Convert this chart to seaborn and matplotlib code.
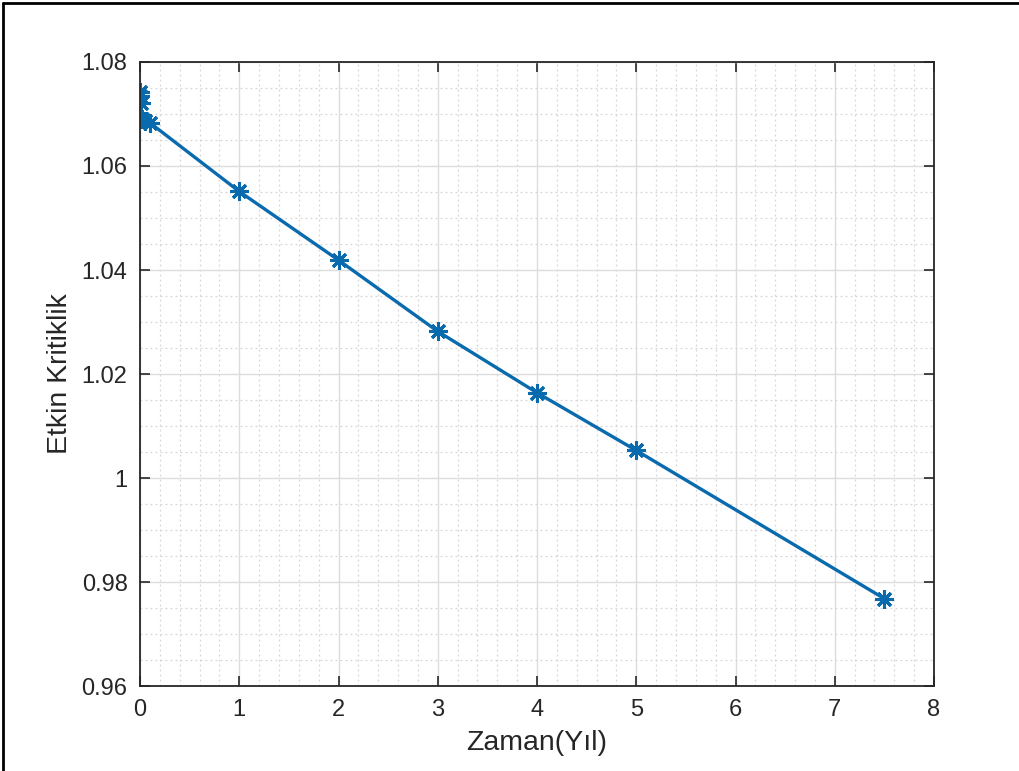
import matplotlib
matplotlib.use("Agg")
import matplotlib.pyplot as plt
from matplotlib.lines import Line2D
from matplotlib.ticker import MultipleLocator, FuncFormatter
import numpy as np
import pandas as pd
import seaborn as sns

# Burnup history: effective multiplication factor versus time (years)
zaman = [0.0, 0.003, 0.008, 0.02, 0.05, 0.1, 1.0, 2.0, 3.0, 4.0, 5.0, 7.5]
etkin_kritiklik = [1.0742, 1.0735, 1.0722, 1.0690, 1.0687, 1.0683,
                   1.0551, 1.0419, 1.0282, 1.0164, 1.0053, 0.9768]

x_ticks = [0, 1, 2, 3, 4, 5, 6, 7, 8]
y_ticks = [0.96, 0.98, 1.00, 1.02, 1.04, 1.06, 1.08]

sns.set_theme(style="white")
plt.rcParams["font.family"] = ["Liberation Sans", "DejaVu Sans"]

df = pd.DataFrame({"Zaman": zaman, "Etkin": etkin_kritiklik})

fig = plt.figure(figsize=(10.19, 7.71), dpi=100)
fig.patch.set_facecolor("white")
ax = fig.add_axes([0.1374, 0.1102, 0.7792, 0.8094])

line_color = "#0a6aae"
sns.lineplot(data=df, x="Zaman", y="Etkin", ax=ax, color=line_color,
             linewidth=2.4, marker=(8, 2, 0), markersize=13,
             markeredgewidth=2.2, markeredgecolor=line_color,
             estimator=None, sort=False, legend=False)

ax.set_xlim(0, 8)
ax.set_ylim(0.96, 1.08)
ax.set_xticks(x_ticks)
ax.set_yticks(y_ticks)
ax.xaxis.set_minor_locator(MultipleLocator(0.2))
ax.yaxis.set_minor_locator(MultipleLocator(0.005))
ax.xaxis.set_major_formatter(FuncFormatter(lambda v, p: f"{v:g}"))
ax.yaxis.set_major_formatter(FuncFormatter(lambda v, p: f"{v:g}"))

# grid: solid major lines, dotted minor lines
ax.grid(which="major", color="#dcdcdc", linestyle="-", linewidth=1.0)
ax.grid(which="minor", color="#d6d6d6", linestyle=(0, (1.5, 2.5)), linewidth=0.9)
ax.set_axisbelow(True)

axis_color = "#262626"
for s in ax.spines.values():
    s.set_visible(True)
    s.set_color(axis_color)
    s.set_linewidth(1.3)

ax.tick_params(which="major", direction="in", length=7, width=1.2,
               colors=axis_color, labelsize=17, pad=9,
               top=True, right=True, bottom=True, left=True)
ax.tick_params(which="minor", length=0)

ax.set_xlabel("Zaman(Yıl)", fontsize=20.5, color=axis_color, labelpad=7)
ax.set_ylabel("Etkin Kritiklik", fontsize=20.5, color=axis_color, labelpad=6)

# frame edges along the top and left of the figure
fig.add_artist(Line2D([0.003, 0.003], [0.0, 0.996], transform=fig.transFigure,
                      color="black", linewidth=2.0))
fig.add_artist(Line2D([0.003, 1.0], [0.996, 0.996], transform=fig.transFigure,
                      color="black", linewidth=2.0))

fig.savefig("out.png", dpi=100, facecolor="white")
